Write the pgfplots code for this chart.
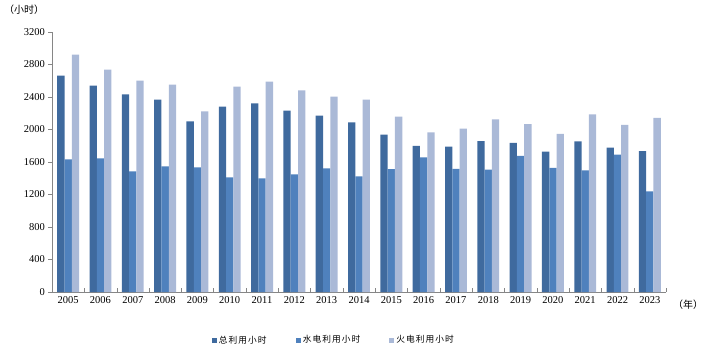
\documentclass[border=0pt]{standalone}
\usepackage{fontspec}
\setmainfont{Liberation Serif}
\newfontfamily\cjk{Noto Sans CJK SC}
\usepackage{pgfplots}
\pgfplotsset{compat=1.18}
\usepackage{pgfplotstable}
\definecolor{cTot}{RGB}{63,106,158}
\definecolor{cHyd}{RGB}{79,129,189}
\definecolor{cThe}{RGB}{170,185,215}
\definecolor{axgray}{RGB}{134,134,134}
\pgfplotstableread{
x tot hyd the
0 2664 1633 2921
1 2540 1645 2737
2 2431 1486 2603
3 2369 1547 2553
4 2099 1535 2222
5 2283 1412 2528
6 2320 1400 2590
7 2233 1448 2481
8 2172 1522 2406
9 2087 1424 2369
10 1936 1512 2158
11 1797 1658 1964
12 1789 1514 2010
13 1858 1505 2126
14 1834 1674 2066
15 1727 1528 1947
16 1853 1496 2186
17 1777 1691 2057
18 1733 1239 2142
}\data
\begin{document}
\begin{tikzpicture}
\path[use as bounding box] (-52pt,-59pt) rectangle (654pt,292pt);
\begin{axis}[
  at={(0,0)}, anchor=south west, scale only axis,
  width=614pt, height=260pt,
  clip=false,
  ybar=0pt, bar width=7.3pt,
  xmin=-0.5, xmax=18.5, ymin=0, ymax=3200,
  enlargelimits=false,
  ytick={0,400,...,3200},
  xtick={0,...,18},
  xticklabels={2005,2006,2007,2008,2009,2010,2011,2012,2013,2014,2015,2016,2017,2018,2019,2020,2021,2022,2023},
  minor xtick={-0.5,0.5,...,18.5},
  major x tick style={draw=none},
  minor x tick style={axgray},
  y tick style={axgray},
  xtick align=inside, ytick align=outside,
  major tick length=3.5pt, minor tick length=4.5pt,
  axis x line*=bottom, axis y line*=left,
  axis line style={axgray, line width=0.8pt},
  /pgf/number format/assume math mode=true,
  /pgf/number format/1000 sep={},
  tick label style={font=\fontsize{10.5}{12}\selectfont, black},
  xticklabel style={yshift=-1pt},
  legend style={at={(0.459,-0.185)}, anchor=center, draw=none, fill=none,
    legend columns=3, font=\fontsize{8.7}{10}\selectfont\cjk\addfontfeatures{LetterSpace=12},
    /tikz/every even column/.append style={column sep=27pt},
    inner sep=0pt},
  legend image code/.code={\fill[#1] (0pt,-2.6pt) rectangle (5.2pt,2.6pt);},
]
\addplot[fill=cTot, draw=none] table[x=x,y=tot]{\data};
\addlegendentry{总利用小时}
\addplot[fill=cHyd, draw=none] table[x=x,y=hyd]{\data};
\addlegendentry{水电利用小时}
\addplot[fill=cThe, draw=none] table[x=x,y=the]{\data};
\addlegendentry{火电利用小时}
\node[font=\fontsize{10}{12}\selectfont\cjk, anchor=center] at (rel axis cs:-0.0456,1.0846) {（小时）};
\node[font=\fontsize{10}{12}\selectfont\cjk, anchor=center] at (rel axis cs:1.036,-0.05) {（年）};
\end{axis}
\end{tikzpicture}
\end{document}
